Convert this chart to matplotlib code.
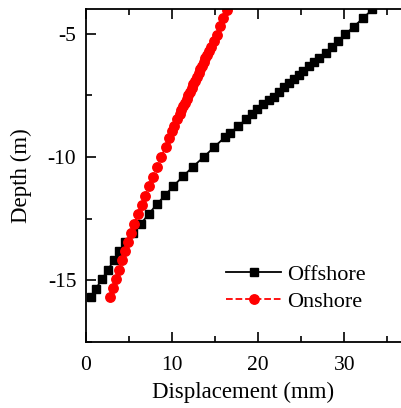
import matplotlib
matplotlib.use("Agg")
import matplotlib.pyplot as plt
from matplotlib.ticker import MultipleLocator

plt.rcParams['font.family'] = ['Liberation Serif', 'DejaVu Serif']

offshore_depth = [-15.68, -15.35, -14.95, -14.57, -14.19, -13.81, -13.43, -13.07, -12.70, -12.31,
                  -11.92, -11.55, -11.18, -10.78, -10.39, -10.00, -9.59, -9.19, -9.01, -8.76,
                  -8.47, -8.24, -8.05, -7.87, -7.67, -7.55, -7.37, -7.18, -7.00, -6.84,
                  -6.68, -6.51, -6.31, -6.15, -5.98, -5.77, -5.53, -5.29, -5.03, -4.71,
                  -4.38, -4.02]
offshore_disp = [0.55, 1.13, 1.86, 2.56, 3.22, 3.88, 4.57, 5.50, 6.40, 7.29,
                 8.22, 9.19, 10.15, 11.28, 12.44, 13.68, 14.92, 16.16, 16.78, 17.67,
                 18.57, 19.26, 19.92, 20.62, 21.31, 21.82, 22.44, 23.06, 23.64, 24.19,
                 24.73, 25.27, 25.89, 26.47, 27.02, 27.83, 28.57, 29.26, 30.12, 31.13,
                 32.17, 33.26]

onshore_depth = [-15.68, -15.30, -14.93, -14.57, -14.19, -13.81, -13.45, -13.07, -12.70, -12.32,
                 -11.93, -11.57, -11.19, -10.80, -10.39, -9.99, -9.60, -9.24, -8.95, -8.73,
                 -8.47, -8.24, -8.10, -7.95, -7.80, -7.65, -7.50, -7.35, -7.20, -7.05,
                 -6.90, -6.75, -6.60, -6.45, -6.30, -6.15, -6.00, -5.85, -5.71, -5.54,
                 -5.30, -5.04, -4.70, -4.35, -4.03]
onshore_disp = [2.79, 3.14, 3.49, 3.84, 4.19, 4.53, 4.88, 5.23, 5.62, 6.05,
                6.47, 6.90, 7.33, 7.83, 8.30, 8.72, 9.26, 9.65, 10.00, 10.20,
                10.55, 10.90, 11.08, 11.28, 11.48, 11.68, 11.88, 12.08, 12.28, 12.48,
                12.68, 12.88, 13.08, 13.28, 13.48, 13.68, 13.88, 14.08, 14.30, 14.55,
                14.85, 15.20, 15.60, 15.97, 16.40]

fig = plt.figure(figsize=(4.01, 4.08), dpi=100)
ax = fig.add_axes([86/401, 66/408, 315/401, 333/408])

ax.plot(offshore_disp, offshore_depth, color='black', linestyle='-', linewidth=1.3,
        marker='s', markersize=6, label='Offshore')
ax.plot(onshore_disp, onshore_depth, color='red', linestyle='--', linewidth=1.3,
        marker='o', markersize=6.8, label='Onshore')

ax.set_xlim(0, 36.6)
ax.set_ylim(-17.5, -4)
ax.xaxis.set_major_locator(MultipleLocator(10))
ax.xaxis.set_minor_locator(MultipleLocator(5))
ax.yaxis.set_minor_locator(MultipleLocator(2.5))
ax.set_yticks([-5, -10, -15])
ax.set_yticklabels(['-5', '-10', '-15'])
ax.tick_params(which='major', direction='in', length=7, width=1.2, labelsize=15.5, top=True)
ax.tick_params(axis='x', which='major', pad=10)
ax.tick_params(axis='y', which='major', pad=7)
ax.tick_params(which='minor', direction='in', length=4, width=1.2, top=True)
ax.spines['right'].set_visible(False)
for s in ['left', 'bottom', 'top']:
    ax.spines[s].set_linewidth(1.3)

ax.set_xlabel('Displacement (mm)', fontsize=16.5, labelpad=5)
ax.set_ylabel('Depth (m)', fontsize=16.5, labelpad=11)

leg = ax.legend(loc='lower right', bbox_to_anchor=(0.953, 0.03), frameon=False, fontsize=16,
                handlelength=2.45, handletextpad=0.3, labelspacing=0.3)

fig.savefig('out.png', dpi=100)
